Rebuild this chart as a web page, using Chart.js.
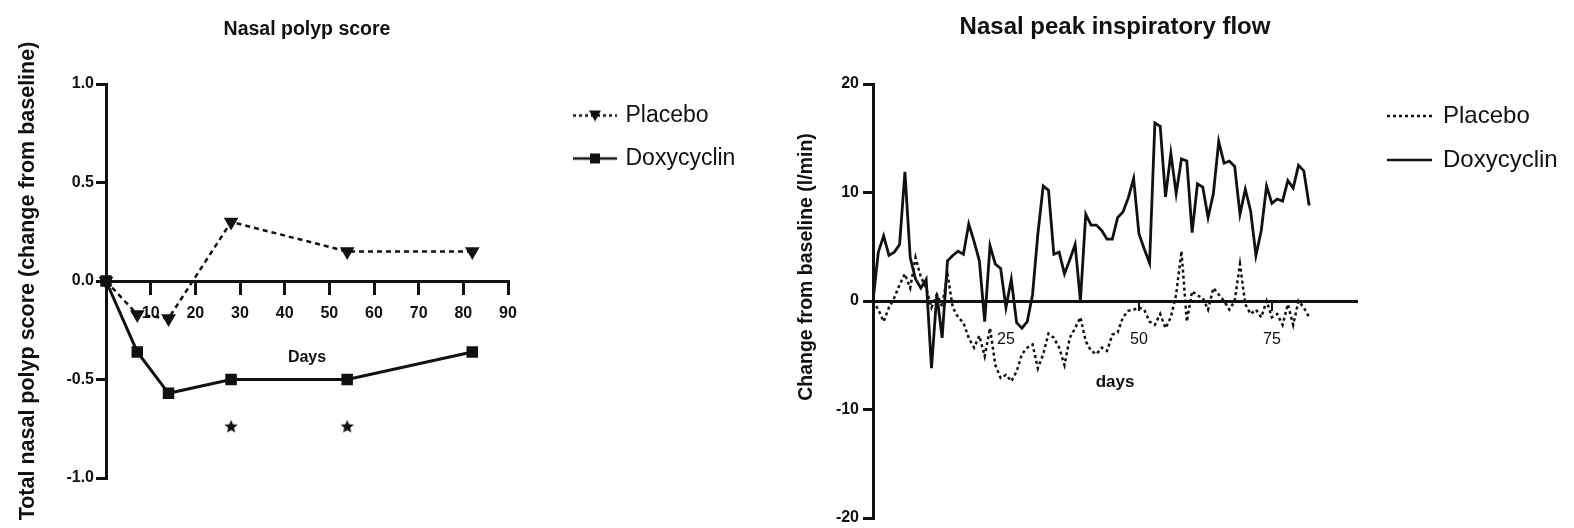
<!DOCTYPE html>
<html>
<head>
<meta charset="utf-8">
<script src="https://cdn.jsdelivr.net/npm/chart.js@4.4.1/dist/chart.umd.min.js"></script>
<style>
html,body{margin:0;padding:0;background:#fff;overflow:hidden;}
#wrap{position:relative;width:1574px;height:528px;overflow:hidden;}
canvas{position:absolute;top:0;}
#polyp{left:0;}
#flow{left:760px;}
</style>
</head>
<body>
<div id="wrap">
<canvas id="polyp" width="760" height="540"></canvas>
<canvas id="flow" width="814" height="540"></canvas>
</div>
<script>
const family="'Liberation Sans', Arial, sans-serif";
Chart.defaults.font.family=family;
Chart.defaults.color="#111";
Chart.defaults.animation=false;

const ink="#111";

//---------------- nasal polyp score
const polypDays=[0,7,14,28,54,82];
const polypPlacebo=[0,-0.17,-0.19,0.3,0.15,0.15];
const polypDoxy=[0,-0.36,-0.57,-0.5,-0.5,-0.36];
const starDays=[28,54];
const starLevel=[-0.74,-0.74];
const polypXTicks=[10,20,30,40,50,60,70,80,90];
const polypYTicks=[-1,-0.5,0,0.5,1];

//---------------- nasal peak inspiratory flow (daily)
const flowPlacebo=[0,-0.8,-1.9,-0.6,0.3,1.5,2.5,1.2,4.0,2.2,
1.2,-0.6,0.6,-0.5,2.5,-0.6,-1.5,-2.0,-3.4,-4.3,
-3.2,-5.1,-2.5,-5.9,-7.1,-6.8,-7.4,-6.5,-4.9,-4.3,
-4.0,-6.2,-4.9,-3.0,-3.4,-4.3,-5.9,-3.4,-2.5,-1.5,
-3.7,-4.6,-4.9,-4.3,-4.6,-3.1,-2.9,-1.5,-0.9,-0.8,
-0.6,-0.8,-1.9,-2.2,-1.2,-2.5,-1.5,0.6,4.6,-1.9,
0.9,0.5,0.3,-0.8,1.2,0.6,0,-0.8,0,3.4,
-0.3,-1.2,-0.8,-1.5,0,-1.5,-1.2,-2.2,-0.3,-2.2,
0,-0.6,-1.5];
const flowDoxy=[0,4.5,6.0,4.2,4.5,5.2,11.9,4.0,2.0,1.2,
2.0,-6.2,0.6,-3.4,3.7,4.2,4.6,4.3,7.1,5.5,
3.7,-1.9,5.1,3.4,3.0,-0.6,2.0,-2.0,-2.5,-1.9,
0.6,6.2,10.6,10.2,4.3,4.5,2.5,3.8,5.2,0.0,
8.0,7.0,7.0,6.5,5.7,5.7,7.7,8.2,9.5,11.3,
6.2,4.8,3.5,16.4,16.1,9.6,13.6,9.9,13.1,12.9,
6.3,10.8,10.5,7.7,9.9,14.7,12.7,12.9,12.4,8.0,
10.3,8.3,4.2,6.5,10.6,9.0,9.4,9.2,11.1,10.4,
12.5,12.0,8.8];
const flowDays=flowDoxy.map((v,i)=>i);
const flowXTicks=[25,50,75];
const flowYTicks=[-20,-10,0,10,20];

const pts=(xs,ys)=>xs.map((x,i)=>({x:x,y:ys[i]}));
const setTicks=list=>s=>{s.ticks=list.map(v=>({value:v}));};

// right padding that leaves the legend exactly beside the plot
function legendRoom(canvasW,chartRight,box,size,texts){
  const g=document.createElement("canvas").getContext("2d");
  g.font=size+"px "+family;
  const w=Math.max(...texts.map(t=>g.measureText(t).width));
  return canvasW-chartRight-(20+box+size/2+w+10);
}

// legend symbol: image centred on box/2, line drawn from..to (px from item start)
function legendSymbol(box,from,to,dash,marker){
  const half=Math.max(box/2-from,to-box/2);
  const c=document.createElement("canvas");
  c.width=Math.ceil(half*2);
  c.height=24;
  const g=c.getContext("2d");
  const off=half-box/2;
  const y=12;
  g.strokeStyle=ink;
  g.fillStyle=ink;
  g.lineWidth=2.5;
  g.setLineDash(dash);
  g.beginPath();
  g.moveTo(from+off,y);
  g.lineTo(to+off,y);
  g.stroke();
  g.setLineDash([]);
  const mx=(from+to)/2+off;
  if(marker==="triangle"){
    g.beginPath();
    g.moveTo(mx-6,y-5);
    g.lineTo(mx+6,y-5);
    g.lineTo(mx,y+6);
    g.closePath();
    g.fill();
  }
  if(marker==="rect"){
    g.fillRect(mx-5,y-5,10,10);
  }
  return c;
}

function starImage(r){
  const c=document.createElement("canvas");
  c.width=c.height=r*2+2;
  const g=c.getContext("2d");
  g.fillStyle=ink;
  g.beginPath();
  for(let i=0;i<10;i++){
    const a=-Math.PI/2+i*Math.PI/5;
    const rr=i%2?r*0.45:r;
    g.lineTo(r+1+rr*Math.cos(a),r+1+rr*Math.sin(a));
  }
  g.closePath();
  g.fill();
  return c;
}

function axisGrid(len,w){
  return {display:true,drawOnChartArea:false,drawTicks:true,tickLength:len,lineWidth:w,color:ink};
}

// rotated axis caption placed off-centre, as in the original figure
const sideTitle={
  id:"sideTitle",
  afterDraw(chart,args,opts){
    if(!opts.text)return;
    const {ctx,chartArea}=chart;
    ctx.save();
    ctx.font="bold "+opts.size+"px "+family;
    ctx.fillStyle=ink;
    ctx.textAlign="center";
    ctx.textBaseline="middle";
    ctx.translate(opts.x,(chartArea.top+chartArea.bottom)/2+opts.dy);
    ctx.rotate(-Math.PI/2);
    ctx.fillText(opts.text,0,0);
    ctx.restore();
  }
};

//=====================================================
// NASAL POLYP SCORE
//=====================================================

const polypLegend=["Placebo","Doxycyclin"];

new Chart(document.getElementById("polyp"),{
type:"line",
data:{
datasets:[
{
label:"Placebo",
data:pts(polypDays,polypPlacebo),
borderColor:ink,
borderWidth:2.5,
borderDash:[5,4],
pointStyle:"triangle",
rotation:180,
pointRadius:6,
pointBackgroundColor:ink,
pointBorderColor:ink,
tension:0,
clip:false
},
{
label:"Doxycyclin",
data:pts(polypDays,polypDoxy),
borderColor:ink,
borderWidth:3,
pointStyle:"rect",
pointRadius:6,
pointBackgroundColor:ink,
pointBorderColor:ink,
tension:0,
clip:false
},
{
type:"scatter",
label:"p<0.05",
data:pts(starDays,starLevel),
pointStyle:starImage(7),
pointRadius:8,
showLine:false
}
]
},
options:{
responsive:false,
devicePixelRatio:1,
layout:{padding:{left:0,top:0,bottom:62,right:legendRoom(760,508,86,23,polypLegend)}},
plugins:{
title:{display:true,text:"Nasal polyp score",fullSize:false,color:ink,
font:{size:19.5,weight:"bold"},padding:{top:18.3,bottom:42.3}},
legend:{
position:"right",align:"start",fullSize:false,maxWidth:1000,
labels:{
usePointStyle:true,pointStyleWidth:86,padding:20,color:ink,font:{size:23},
generateLabels:()=>[
{text:polypLegend[0],pointStyle:legendSymbol(86,45,89,[3,3],"triangle"),lineWidth:0,fillStyle:ink,strokeStyle:ink,fontColor:ink,hidden:false,datasetIndex:0},
{text:polypLegend[1],pointStyle:legendSymbol(86,45,89,[],"rect"),lineWidth:0,fillStyle:ink,strokeStyle:ink,fontColor:ink,hidden:false,datasetIndex:1}
]
}
},
tooltip:{enabled:false}
},
scales:{
x:{
type:"linear",
position:{y:0},
min:0,max:90,
afterBuildTicks:setTicks(polypXTicks),
afterFit:s=>{s.height=90;},
ticks:{color:ink,font:{size:16,weight:"bold"},padding:10.5,maxRotation:0,autoSkip:false},
grid:axisGrid(12,3),
border:{display:true,width:3,color:ink},
title:{display:true,text:"Days",color:ink,font:{size:16,weight:"bold"},padding:{top:0,bottom:3.4}}
},
y:{
type:"linear",
min:-1,max:1,
afterBuildTicks:setTicks(polypYTicks),
afterFit:s=>{s.width=106;},
ticks:{color:ink,font:{size:16,weight:"bold"},padding:2,callback:v=>v.toFixed(1)},
grid:axisGrid(10,3),
border:{display:true,width:3,color:ink},
title:{display:true,text:"Total nasal polyp score (change from baseline)",color:ink,
font:{size:21.5,weight:"bold"},padding:{top:15.1,bottom:0}}
}
}
}
});

//=====================================================
// NASAL PEAK INSPIRATORY FLOW
//=====================================================

const flowLegend=["Placebo","Doxycyclin"];

new Chart(document.getElementById("flow"),{
type:"line",
data:{
datasets:[
{
label:"Placebo",
data:pts(flowDays,flowPlacebo),
borderColor:ink,
borderWidth:2.5,
borderDash:[3,3],
pointRadius:0,
tension:0
},
{
label:"Doxycyclin",
data:pts(flowDays,flowDoxy),
borderColor:ink,
borderWidth:2.8,
pointRadius:0,
tension:0
}
]
},
plugins:[sideTitle],
options:{
responsive:false,
devicePixelRatio:1,
layout:{padding:{left:0,top:0,bottom:22,right:legendRoom(814,597,54,24,flowLegend)}},
plugins:{
title:{display:true,text:"Nasal peak inspiratory flow",fullSize:false,color:ink,
font:{size:24,weight:"bold"},padding:{top:12.6,bottom:42.6}},
legend:{
position:"right",align:"start",fullSize:false,maxWidth:1000,
labels:{
usePointStyle:true,pointStyleWidth:54,padding:20,color:ink,font:{size:24},
generateLabels:()=>[
{text:flowLegend[0],pointStyle:legendSymbol(54,10,55,[3,3],""),lineWidth:0,fillStyle:ink,strokeStyle:ink,fontColor:ink,hidden:false,datasetIndex:0},
{text:flowLegend[1],pointStyle:legendSymbol(54,10,55,[],""),lineWidth:0,fillStyle:ink,strokeStyle:ink,fontColor:ink,hidden:false,datasetIndex:1}
]
}
},
sideTitle:{text:"Change from baseline (l/min)",size:19.5,x:47,dy:-34},
tooltip:{enabled:false}
},
scales:{
x:{
type:"linear",
position:{y:0},
min:0,max:91,
afterBuildTicks:setTicks(flowXTicks),
afterFit:s=>{s.height=100;},
ticks:{color:ink,font:{size:16},padding:21,maxRotation:0,autoSkip:false},
grid:axisGrid(8,2),
border:{display:true,width:3,color:ink},
title:{display:true,text:"days",color:ink,font:{size:17,weight:"bold"},padding:{top:0,bottom:8.8}}
},
y:{
type:"linear",
min:-20,max:20,
afterBuildTicks:setTicks(flowYTicks),
afterFit:s=>{s.width=113;},
ticks:{color:ink,font:{size:16,weight:"bold"},padding:4},
grid:axisGrid(10,3),
border:{display:true,width:3,color:ink},
title:{display:false}
}
}
}
});
</script>
</body>
</html>
